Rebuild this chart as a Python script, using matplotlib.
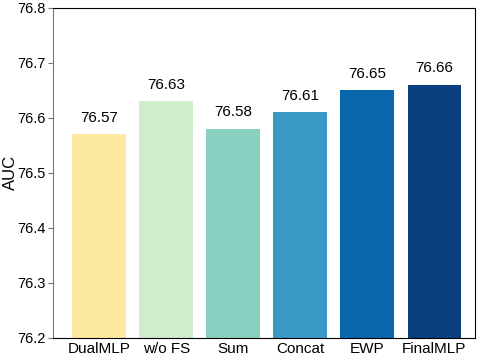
import matplotlib.pyplot as plt

plt.rcParams['font.family'] = ['Liberation Sans', 'DejaVu Sans']

models = ["DualMLP", "w/o FS", "Sum", "Concat", "EWP", "FinalMLP"]
auc = [76.57, 76.63, 76.58, 76.61, 76.65, 76.66]
colors = ["#FDE9A2", "#CFECCB", "#88D1C1", "#3A9AC6", "#0B67AD", "#0A3F80"]

fig = plt.figure(figsize=(4.81, 3.59), dpi=100)
ax = fig.add_axes([0.110, 0.0585, 0.878, 0.92])

x = range(len(models))
bars = ax.bar(x, auc, width=0.8, color=colors)
for b, v in zip(bars, auc):
    ax.annotate(f"{v:.2f}", (b.get_x() + b.get_width() / 2, v),
                xytext=(0, 7), textcoords="offset points",
                ha="center", va="bottom", fontsize=11)

ax.set_ylim(76.2, 76.8)
ax.set_xlim(-0.69, 5.61)
ax.set_xticks(list(x))
ax.set_xticklabels(models, fontsize=11)
ax.tick_params(axis="x", length=0, pad=3)
ax.tick_params(axis="y", labelsize=10.5, pad=2, color="#777777")
ax.spines["left"].set_color("#777777")
ax.set_ylabel("AUC", fontsize=12)
ax.yaxis.set_label_coords(-0.083, 0.5)

fig.savefig("out.png", dpi=100)
